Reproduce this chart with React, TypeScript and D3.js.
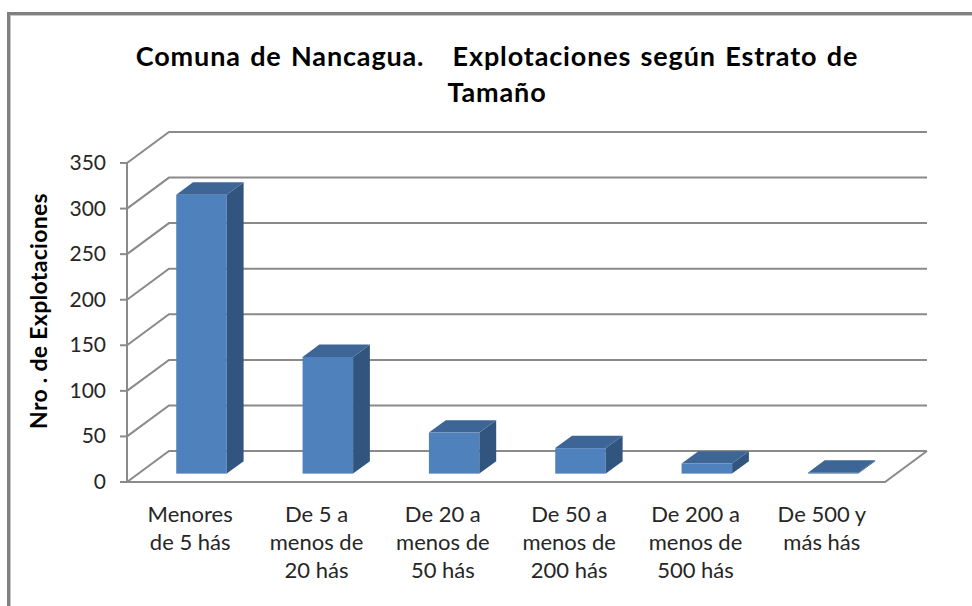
import React from "react";
import * as d3 from "d3";

// data
const categories = [
  ["Menores", "de 5 hás"],
  ["De 5 a", "menos de", "20 hás"],
  ["De 20 a", "menos de", "50 hás"],
  ["De 50 a", "menos de", "200 hás"],
  ["De 200 a", "menos de", "500 hás"],
  ["De 500 y", "más hás"],
];
const values = [306, 128, 45, 28, 11, 1];
const yTicks = [0, 50, 100, 150, 200, 250, 300, 350];
const titleLines = ["Comuna de Nancagua.   Explotaciones según Estrato de", "Tamaño"];
const yLabel = "Nro . de Explotaciones";

const W = 972,
  H = 606;
// front plane of the 3d box and its depth vector
const X0 = 127,
  X1 = 885,
  DX = 42,
  DY = -31;
const Z0 = 0.27,
  Z1 = 0.67;
const FONT = "Lato, 'Liberation Sans', sans-serif";
const GRID = "#8a8a8a";

function pts(p: number[][]) {
  return p.map((d) => d[0].toFixed(1) + "," + d[1].toFixed(1)).join(" ");
}

export default function App() {
  const y = d3.scaleLinear().domain([0, 350]).range([482, 163]);
  const x = d3
    .scaleBand<number>()
    .domain(values.map((_, i) => i))
    .range([X0, X1]);
  const bw = x.bandwidth();

  return (
    <svg width={W} height={H} style={{ display: "block" }}>
      <style>{`body{margin:0}`}</style>
      <rect x={0} y={0} width={W} height={H} fill="#fff" />
      {/* outer frame */}
      <rect x={8.5} y={13.5} width={W + 20} height={H + 20} fill="none" stroke="#808080" strokeWidth={3} />
      <rect x={10.5} y={15.5} width={W + 20} height={H + 20} fill="none" stroke="#c8c8c8" strokeWidth={1} />

      {/* title */}
      <text
        x={497}
        textAnchor="middle"
        fontFamily={FONT}
        fontWeight="bold"
        fontSize={27}
        letterSpacing={0.85}
        wordSpacing={2}
        fill="#000"
        style={{ whiteSpace: "pre" }}
      >
        {titleLines.map((t, i) => (
          <tspan key={i} x={497} y={66 + i * 36}>
            {t}
          </tspan>
        ))}
      </text>

      {/* back wall gridlines and side wall diagonals */}
      {yTicks.map((t) => (
        <g key={t} stroke={GRID} strokeWidth={2} fill="none">
          <polyline points={pts([[X0, y(t)], [X0 + DX, y(t) + DY], [X1 + DX, y(t) + DY]])} />
          <line x1={X0 - 7} x2={X0} y1={y(t)} y2={y(t)} />
        </g>
      ))}
      {/* vertical axis and floor */}
      <line x1={X0} x2={X0} y1={y(350)} y2={y(0)} stroke={GRID} strokeWidth={2} />
      <polyline
        points={pts([[X0, y(0)], [X1, y(0)], [X1 + DX, y(0) + DY]])}
        stroke={GRID}
        strokeWidth={2}
        fill="none"
      />

      {/* bars */}
      {values.map((v, i) => {
        const w = bw * 0.4;
        const l = x(i)! + bw / 2 - w / 2 + Z0 * DX;
        const r = l + w;
        const top = y(v) + Z0 * DY;
        const bot = y(0) + Z0 * DY;
        const ddx = (Z1 - Z0) * DX;
        const ddy = (Z1 - Z0) * DY;
        return (
          <g key={i}>
            <rect x={l} y={top} width={w} height={bot - top} fill="#4f81bd" />
            <polygon points={pts([[r, top], [r + ddx, top + ddy], [r + ddx, bot + ddy], [r, bot]])} fill="#31557f" />
            <polygon points={pts([[l, top], [l + ddx, top + ddy], [r + ddx, top + ddy], [r, top]])} fill="#3d6697" />
          </g>
        );
      })}

      {/* y tick labels */}
      {yTicks.map((t) => (
        <text key={t} x={106} y={y(t) + 7} textAnchor="end" fontFamily={FONT} fontSize={21} fill="#262626">
          {t}
        </text>
      ))}

      {/* y axis title */}
      <text
        transform={`translate(47,311) rotate(-90)`}
        textAnchor="middle"
        fontFamily={FONT}
        fontWeight="bold"
        fontSize={23}
        letterSpacing={0.3}
        fill="#000"
      >
        {yLabel}
      </text>

      {/* category labels */}
      {categories.map((lines, i) => (
        <text key={i} textAnchor="middle" fontFamily={FONT} fontSize={22} fill="#262626">
          {lines.map((s, j) => (
            <tspan key={j} x={x(i)! + bw / 2} y={522 + j * 28}>
              {s}
            </tspan>
          ))}
        </text>
      ))}
    </svg>
  );
}
